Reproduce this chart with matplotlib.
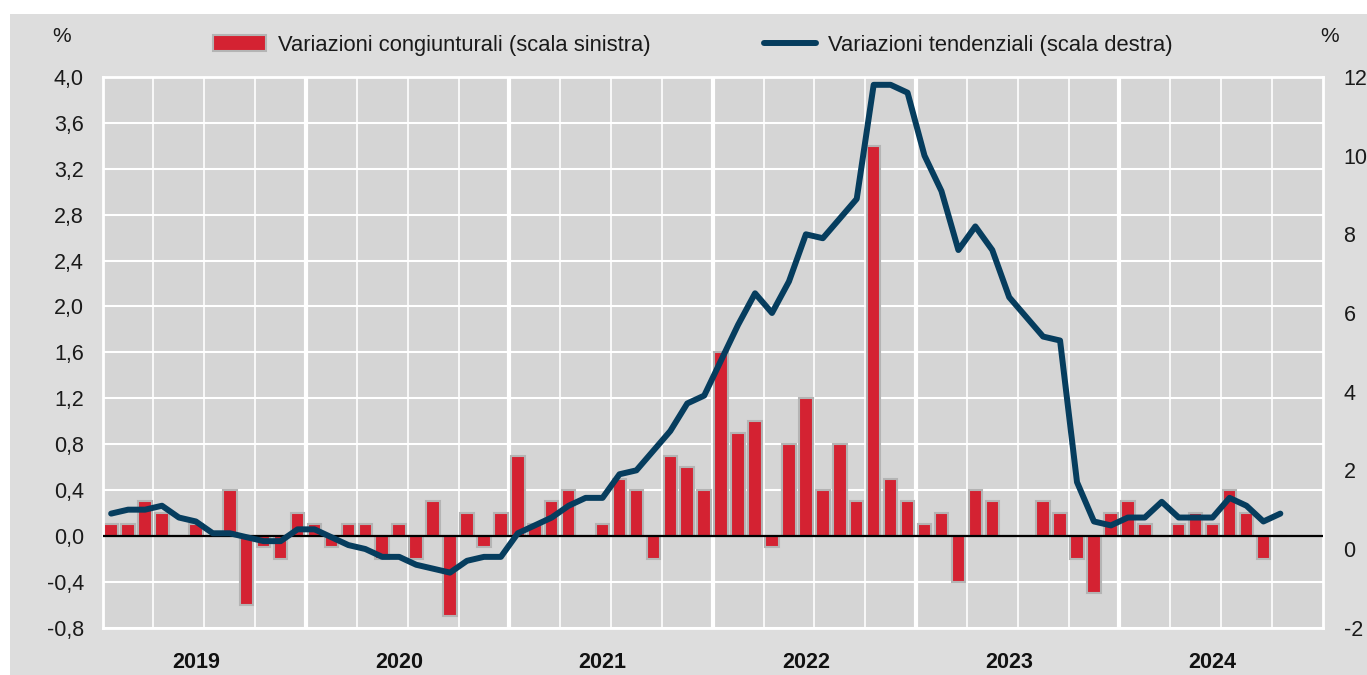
import matplotlib
matplotlib.use("Agg")
import matplotlib.pyplot as plt
import numpy as np
from matplotlib import font_manager
from matplotlib.patches import Rectangle
from matplotlib.lines import Line2D

# Monthly data, Jan 2019 - Oct 2024
years = [2019, 2020, 2021, 2022, 2023, 2024]

# month-on-month changes (left scale)
cong = [
    0.1, 0.1, 0.3, 0.2, 0.0, 0.1, 0.0, 0.4, -0.6, -0.1, -0.2, 0.2,
    0.1, -0.1, 0.1, 0.1, -0.2, 0.1, -0.2, 0.3, -0.7, 0.2, -0.1, 0.2,
    0.7, 0.1, 0.3, 0.4, 0.0, 0.1, 0.5, 0.4, -0.2, 0.7, 0.6, 0.4,
    1.6, 0.9, 1.0, -0.1, 0.8, 1.2, 0.4, 0.8, 0.3, 3.4, 0.5, 0.3,
    0.1, 0.2, -0.4, 0.4, 0.3, 0.0, 0.0, 0.3, 0.2, -0.2, -0.5, 0.2,
    0.3, 0.1, 0.0, 0.1, 0.2, 0.1, 0.4, 0.2, -0.2, 0.0,
]

# year-on-year changes (right scale)
tend = [
    0.9, 1.0, 1.0, 1.1, 0.8, 0.7, 0.4, 0.4, 0.3, 0.2, 0.2, 0.5,
    0.5, 0.3, 0.1, 0.0, -0.2, -0.2, -0.4, -0.5, -0.6, -0.3, -0.2, -0.2,
    0.4, 0.6, 0.8, 1.1, 1.3, 1.3, 1.9, 2.0, 2.5, 3.0, 3.7, 3.9,
    4.8, 5.7, 6.5, 6.0, 6.8, 8.0, 7.9, 8.4, 8.9, 11.8, 11.8, 11.6,
    10.0, 9.1, 7.6, 8.2, 7.6, 6.4, 5.9, 5.4, 5.3, 1.7, 0.7, 0.6,
    0.8, 0.8, 1.2, 0.8, 0.8, 0.8, 1.3, 1.1, 0.7, 0.9,
]

left_ticks = [-0.8, -0.4, 0.0, 0.4, 0.8, 1.2, 1.6, 2.0, 2.4, 2.8, 3.2, 3.6, 4.0]
right_ticks = [-2, 0, 2, 4, 6, 8, 10, 12]

label_cong = "Variazioni congiunturali (scala sinistra)"
label_tend = "Variazioni tendenziali (scala destra)"

RED = "#d42232"
NAVY = "#063d5e"
BG = "#dddddd"
PLOT_BG = "#d5d5d5"
TXT = "#1a1a1a"

# Arial Narrow look-alike if present, otherwise plain Liberation Sans
names = {f.name for f in font_manager.fontManager.ttflist}
if "Liberation Sans Narrow" in names:
    FONT, FS, FS_LEG = "Liberation Sans Narrow", 17, 17.5
else:
    FONT, FS, FS_LEG = "Liberation Sans", 15.5, 15.8
plt.rcParams["font.family"] = [FONT, "DejaVu Sans"]

fig = plt.figure(figsize=(13.67, 6.75), dpi=100, facecolor="white")
fig.add_artist(Rectangle((10 / 1367, 0), 1, 1 - 14 / 675, transform=fig.transFigure,
                         facecolor=BG, edgecolor="none", zorder=-10))

ax = fig.add_axes([0.0751, 0.0701, 0.8925, 0.8159])
ax.set_facecolor(PLOT_BG)
n_months = 12 * len(years)
x = np.arange(len(cong))

ax.bar(x, cong, width=0.8, color=RED, edgecolor="#b4b4b4", linewidth=1.5, zorder=2)
ax.axhline(0, color="black", lw=1.6, zorder=3)

ax.set_xlim(-0.5, n_months - 0.5)
ax.set_ylim(-0.8, 4.0)
ax.set_yticks(left_ticks)
ax.set_yticklabels([f"{v:.1f}".replace(".", ",") for v in left_ticks])

year_bounds = [12 * k - 0.5 for k in range(1, len(years))]
quarter_bounds = [3 * k - 0.5 for k in range(1, 4 * len(years)) if k % 4]
ax.set_xticks(year_bounds)
ax.set_xticklabels([])
ax.set_xticks(quarter_bounds, minor=True)
ax.grid(axis="x", which="major", color="white", lw=3, zorder=0)
ax.grid(axis="x", which="minor", color="white", lw=1.2, zorder=0)
ax.grid(axis="y", which="major", color="white", lw=1.5, zorder=0)
ax.set_axisbelow(True)
ax.tick_params(axis="both", which="both", length=0)
ax.tick_params(axis="y", labelsize=FS, pad=13.5, colors=TXT)
for s in ax.spines.values():
    s.set_color("white")
    s.set_linewidth(2)

for k, yr in enumerate(years):
    ax.text(12 * k + 5, -0.0625, str(yr), transform=ax.get_xaxis_transform(),
            ha="center", va="center", fontsize=15.5, fontweight="bold", color="#111111")

ax2 = ax.twinx()
ax2.plot(x, tend, color=NAVY, lw=4.3, solid_capstyle="round", solid_joinstyle="round", zorder=4)
ax2.set_ylim(-2, 12)
ax2.set_yticks(right_ticks)
ax2.set_yticklabels([str(v) for v in right_ticks])
ax2.tick_params(axis="y", length=0, labelsize=FS, pad=15, colors=TXT)
for s in ax2.spines.values():
    s.set_visible(False)

fig.text(62 / 1367, 1 - 36 / 675, "%", ha="center", va="center", fontsize=FS - 0.5, color=TXT)
fig.text(1330 / 1367, 1 - 36 / 675, "%", ha="center", va="center", fontsize=FS - 0.5, color=TXT)

handles = [
    Rectangle((0, 0), 1, 1, facecolor=RED, edgecolor="#b4b4b4", linewidth=1.5),
    Line2D([], [], color=NAVY, lw=4.3, solid_capstyle="round"),
]
fig.legend(handles, [label_cong, label_tend], loc="center", bbox_to_anchor=(0.507, 0.933),
           ncol=2, frameon=False, fontsize=FS_LEG, handlelength=2.4, handleheight=0.7,
           handletextpad=0.55, columnspacing=5.15, borderpad=0, labelcolor=TXT)

fig.savefig("out.png", dpi=100, facecolor="white")
